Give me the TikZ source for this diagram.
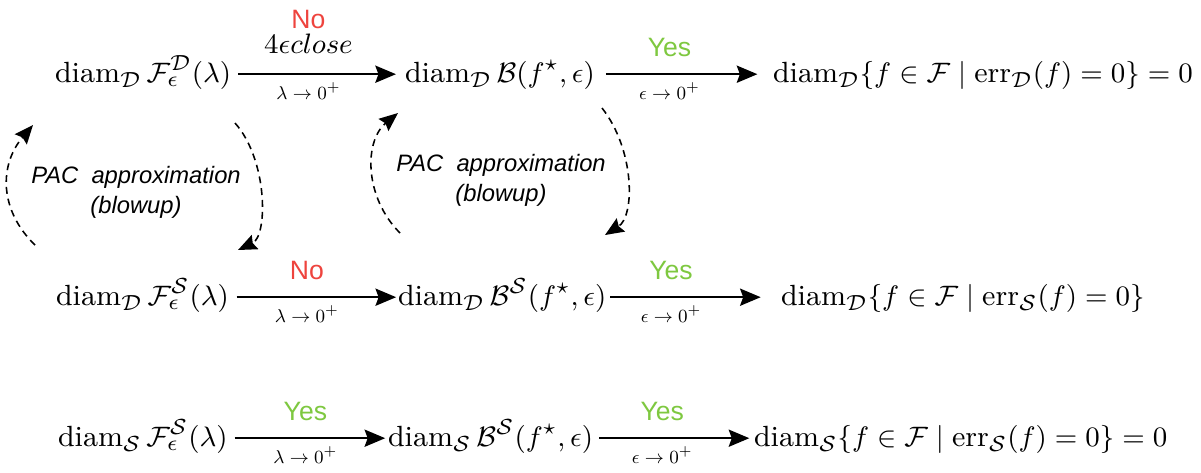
\documentclass[tikz,border=0pt]{standalone}
\usepackage{amsmath,amssymb}
\usepackage{graphicx}
\usepackage{fontspec}
\newfontfamily\labfont{Liberation Sans}
\usetikzlibrary{arrows.meta}
\definecolor{noRed}{RGB}{238,68,62}
\definecolor{yesGreen}{RGB}{126,200,64}
\newcommand{\sublbl}[1]{\scalebox{0.66}{$#1$}}
\tikzset{
  every node/.style={inner sep=0pt, outer sep=0pt},
  expr/.style={anchor=base west, font=\fontsize{9.35}{11}\selectfont},
  arr/.style={-{Stealth[length=6.6pt,width=5.5pt,inset=1pt]}, line width=0.65pt},
  dasharr/.style={dash pattern=on 2.2pt off 1.6pt, line width=0.5pt,
    -{Stealth[length=6pt,width=5pt,inset=0.8pt]}},
  toplab/.style={anchor=base, yshift=5.6pt, font=\labfont\fontsize{8.5}{10}\selectfont},
  yeslab/.style={toplab, text=yesGreen},
  nolab/.style={toplab, text=noRed},
  sublab/.style={anchor=base, yshift=-8pt, font=\fontsize{9.35}{11}\selectfont},
  pac/.style={font=\labfont\itshape\fontsize{7.6}{9.4}\selectfont, align=center, anchor=base}
}
\begin{document}
\begin{tikzpicture}[x=0.32pt,y=-0.32pt]
\useasboundingbox (0,0) rectangle (1201,472);
% row 1
\node[expr] (a1) at (55,82) {$\operatorname{diam}_{\mathcal D}\mathcal F_\epsilon^{\mathcal D}(\lambda)$};
\node[expr] (a2) at (405,82) {$\operatorname{diam}_{\mathcal D}\mathcal B(f^\star,\epsilon)$};
\node[expr] (a3) at (773,82) {$\operatorname{diam}_{\mathcal D}\{f\in\mathcal F\mid\operatorname{err}_{\mathcal D}(f)=0\}=0$};
% row 2
\node[expr] (b1) at (56,305) {$\operatorname{diam}_{\mathcal D}\mathcal F_\epsilon^{\mathcal S}(\lambda)$};
\node[expr] (b2) at (398,305) {$\operatorname{diam}_{\mathcal D}\mathcal B^{\mathcal S}(f^\star,\epsilon)$};
\node[expr] (b3) at (781,305) {$\operatorname{diam}_{\mathcal D}\{f\in\mathcal F\mid\operatorname{err}_{\mathcal S}(f)=0\}$};
% row 3
\node[expr] (c1) at (58,446) {$\operatorname{diam}_{\mathcal S}\mathcal F_\epsilon^{\mathcal S}(\lambda)$};
\node[expr] (c2) at (388,446) {$\operatorname{diam}_{\mathcal S}\mathcal B^{\mathcal S}(f^\star,\epsilon)$};
\node[expr] (c3) at (754,446) {$\operatorname{diam}_{\mathcal S}\{f\in\mathcal F\mid\operatorname{err}_{\mathcal S}(f)=0\}=0$};

% arrows row 1
\draw[arr] ([shift={(2.3pt,2.5pt)}]a1.base east) --
  node[pos=0.445, nolab, yshift=9.1pt] (l1) {No}
  node[pos=0.445, anchor=base, yshift=6.7pt, font=\fontsize{9.35}{11}\selectfont] (l2) {$4\epsilon close$}
  node[pos=0.445, sublab] (l3) {\sublbl{\lambda\to0^+}}
  ([shift={(-2.9pt,2.5pt)}]a2.base west);
\draw[arr] ([shift={(3.5pt,2.5pt)}]a2.base east) --
  node[pos=0.42, yeslab] (l4) {Yes}
  node[pos=0.42, sublab] (l5) {\sublbl{\epsilon\to0^+}}
  ([shift={(-5pt,2.5pt)}]a3.base west);
% arrows row 2
\draw[arr] ([shift={(2.5pt,2.5pt)}]b1.base east) --
  node[pos=0.44, nolab] (l6) {No}
  node[pos=0.44, sublab] (l7) {\sublbl{\lambda\to0^+}}
  ([shift={(-0.6pt,2.5pt)}]b2.base west);
\draw[arr] ([shift={(1.2pt,2.5pt)}]b2.base east) --
  node[pos=0.405, yeslab] (l8) {Yes}
  node[pos=0.405, sublab] (l9) {\sublbl{\epsilon\to0^+}}
  ([shift={(-6.5pt,2.5pt)}]b3.base west);
% arrows row 3
\draw[arr] ([shift={(2.2pt,2.5pt)}]c1.base east) --
  node[pos=0.47, yeslab] (l10) {Yes}
  node[pos=0.47, sublab] (l11) {\sublbl{\lambda\to0^+}}
  ([shift={(-0.9pt,2.5pt)}]c2.base west);
\draw[arr] ([shift={(1.9pt,2.5pt)}]c2.base east) --
  node[pos=0.42, yeslab] (l12) {Yes}
  node[pos=0.42, sublab] (l13) {\sublbl{\epsilon\to0^+}}
  ([shift={(-1.5pt,2.5pt)}]c3.base west);

% dashed curved arrows
\coordinate (p1s) at (35,245); \coordinate (p1e) at (33,125);
\coordinate (p2s) at (235,123); \coordinate (p2e) at (238,250);
\coordinate (p3s) at (400,233); \coordinate (p3e) at (398,113);
\coordinate (p4s) at (602,108); \coordinate (p4e) at (605,235);
\draw[dasharr] (p1s) .. controls (-1,210) and (-1,165) .. (p1e);
\draw[dasharr] (p2s) .. controls (268,160) and (268,236) .. (p2e);
\draw[dasharr] (p3s) .. controls (364,197) and (364,141) .. (p3e);
\draw[dasharr] (p4s) .. controls (635,150) and (635,216) .. (p4e);
\node[pac] (t1) at (136,213) {PAC\ \ approximation\\(blowup)};
\node[pac] (t2) at (501,201) {PAC\ \ approximation\\(blowup)};
\end{tikzpicture}
\end{document}
